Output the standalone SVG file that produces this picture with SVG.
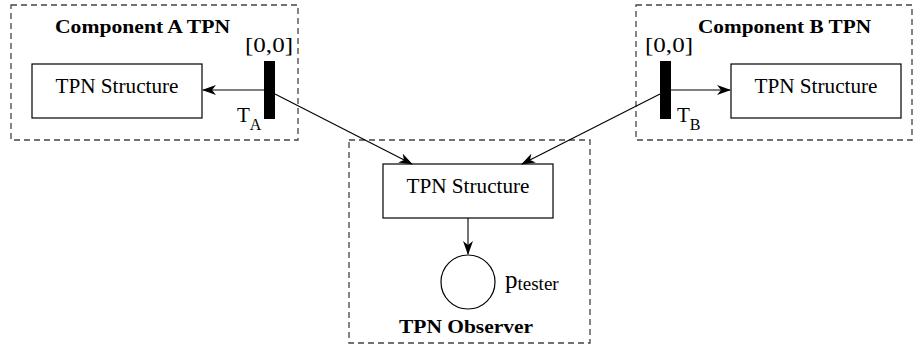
<svg xmlns="http://www.w3.org/2000/svg" width="917" height="348" viewBox="0 0 917 348">
<style>
.grp{fill:none;stroke:#444;stroke-width:1.3;stroke-dasharray:6,4}
.box{fill:#fff;stroke:#000;stroke-width:1.2}
.bar{fill:#000}
.t{font-family:"Liberation Serif","DejaVu Serif",serif;fill:#000}
.lbl{font-size:21px}
.hd{font-size:19px;font-weight:bold}
.edge{fill:none;stroke:#000;stroke-width:1.1}
</style>
<defs>
<marker id="ah" viewBox="0 0 14 10" refX="13" refY="5" markerWidth="14" markerHeight="10" markerUnits="userSpaceOnUse" orient="auto">
<path d="M0,0 L14,5 L0,10 L4,5 Z" fill="#000"/>
</marker>
</defs>
<g id="compA">
<rect class="grp" x="11" y="5" width="287" height="135"/>
<text class="t hd" x="55" y="33" textLength="175" lengthAdjust="spacingAndGlyphs">Component A TPN</text>
</g>
<g id="compB">
<rect class="grp" x="636" y="5" width="276" height="135"/>
<text class="t hd" x="698" y="33" textLength="173" lengthAdjust="spacingAndGlyphs">Component B TPN</text>
</g>
<g id="observer">
<rect class="grp" x="349" y="140" width="241" height="203"/>
<text class="t hd" x="399" y="333" textLength="134" lengthAdjust="spacingAndGlyphs">TPN Observer</text>
</g>
<g id="structA">
<rect class="box" x="32" y="64" width="170" height="54"/>
<text class="t lbl" x="117" y="93" text-anchor="middle" textLength="123" lengthAdjust="spacingAndGlyphs">TPN Structure</text>
</g>
<g id="structB">
<rect class="box" x="731" y="64" width="170" height="54"/>
<text class="t lbl" x="816" y="93" text-anchor="middle" textLength="123" lengthAdjust="spacingAndGlyphs">TPN Structure</text>
</g>
<g id="structObs">
<rect class="box" x="383" y="164" width="170" height="54"/>
<text class="t lbl" x="468" y="193" text-anchor="middle" textLength="123" lengthAdjust="spacingAndGlyphs">TPN Structure</text>
</g>
<g id="TA">
<rect class="bar" x="264" y="61" width="11" height="58"/>
<text class="t" x="245" y="52" font-size="22" textLength="48" lengthAdjust="spacingAndGlyphs">[0,0]</text>
<text class="t" x="237" y="122" font-size="21">T<tspan font-size="16" dy="8">A</tspan></text>
</g>
<g id="TB">
<rect class="bar" x="660" y="61" width="11" height="58"/>
<text class="t" x="645" y="52" font-size="22" textLength="48" lengthAdjust="spacingAndGlyphs">[0,0]</text>
<text class="t" x="677" y="122" font-size="21">T<tspan font-size="16" dy="8">B</tspan></text>
</g>
<g id="ptester">
<circle cx="468" cy="282" r="27" fill="#fff" stroke="#000" stroke-width="1.2"/>
<text class="t" x="505" y="288" font-size="25">p<tspan font-size="19" dy="2">tester</tspan></text>
</g>
<g id="connectors">
<line class="edge" x1="264" y1="90" x2="203" y2="90" marker-end="url(#ah)"/>
<line class="edge" x1="671" y1="90" x2="730" y2="90" marker-end="url(#ah)"/>
<line class="edge" x1="275" y1="94" x2="412" y2="164" marker-end="url(#ah)"/>
<line class="edge" x1="660" y1="94" x2="522" y2="164" marker-end="url(#ah)"/>
<line class="edge" x1="468" y1="218" x2="468" y2="254" marker-end="url(#ah)"/>
</g>
</svg>
